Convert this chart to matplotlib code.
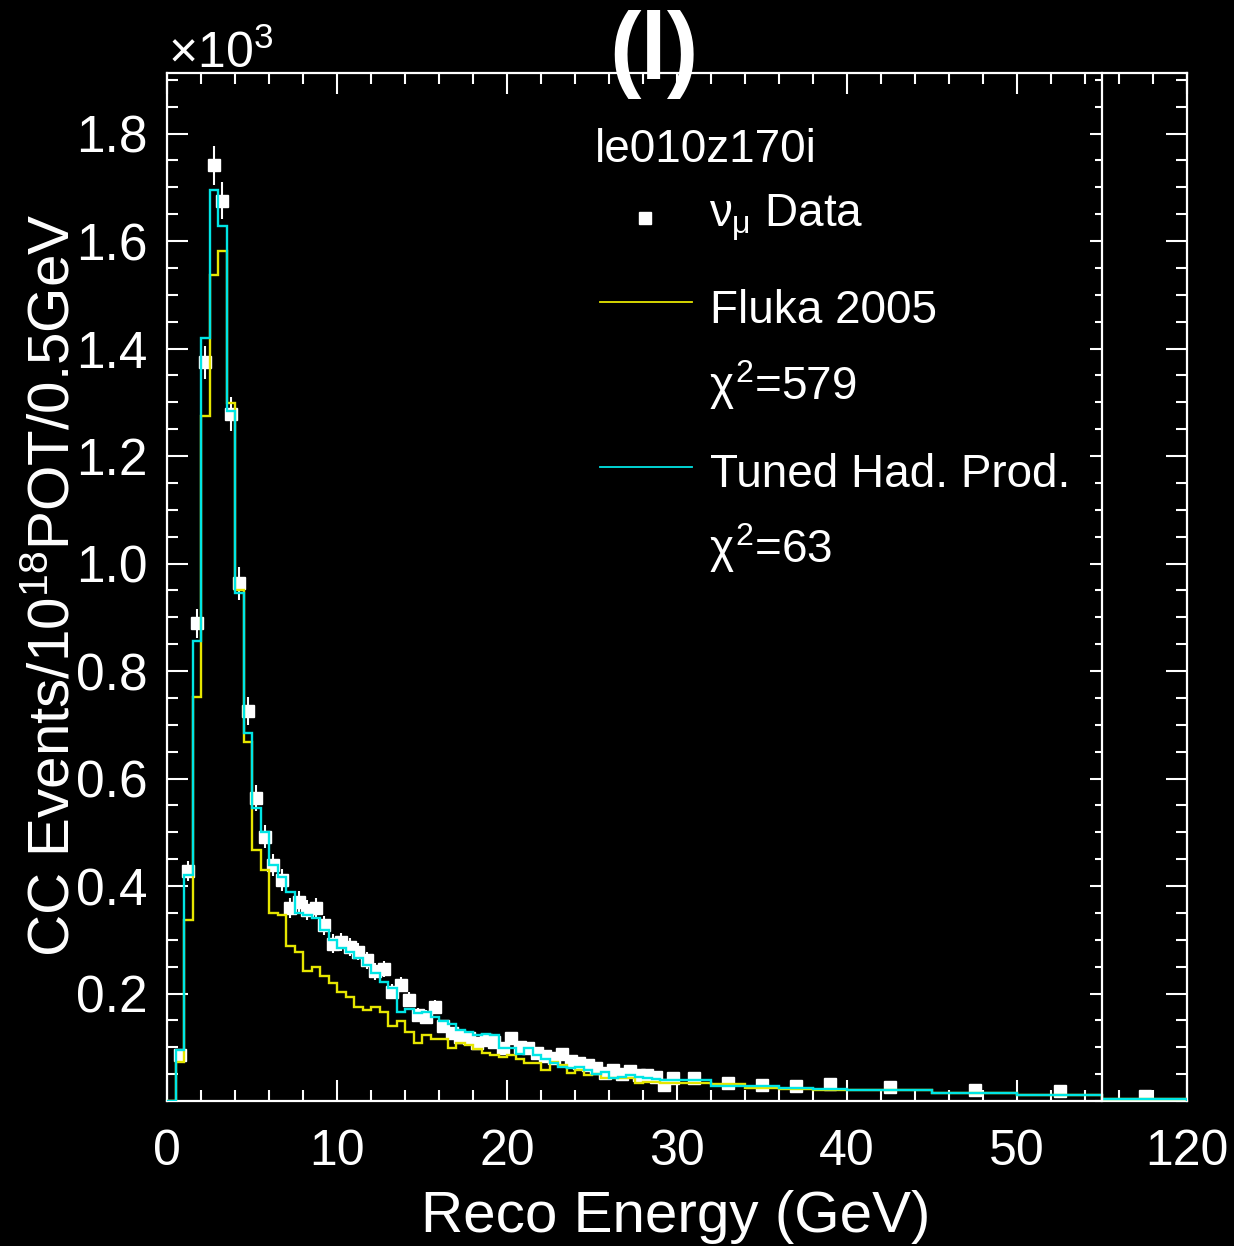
import numpy as np
import matplotlib
matplotlib.use("Agg")
import matplotlib.pyplot as plt
from matplotlib.lines import Line2D
from matplotlib.ticker import MultipleLocator, FixedLocator

plt.rcParams['font.family'] = ['Liberation Sans', 'DejaVu Sans']
plt.rcParams['mathtext.fontset'] = 'custom'
plt.rcParams['mathtext.rm'] = 'Liberation Sans'
plt.rcParams['mathtext.it'] = 'Liberation Sans'
plt.rcParams['mathtext.bf'] = 'Liberation Sans:bold'

# bin edges: 0.5 GeV up to 30, then 2 GeV, 5 GeV, and the 55-120 overflow bin drawn as 55-60
edges = np.concatenate([np.arange(0, 30.5, 0.5), [32, 34, 36, 38, 40, 45, 50, 55, 60]])

# events / 1e18 POT / 0.5 GeV  (x10^3)
tuned = [0.0, 0.095, 0.420, 0.855, 1.419, 1.695, 1.628, 1.284, 0.945, 0.684,
         0.546, 0.501, 0.439, 0.416, 0.388, 0.349, 0.346, 0.340, 0.318, 0.300,
         0.284, 0.278, 0.266, 0.253, 0.238, 0.222, 0.210, 0.166, 0.172, 0.163,
         0.166, 0.157, 0.148, 0.144, 0.132, 0.129, 0.123, 0.125, 0.123, 0.098,
         0.098, 0.088, 0.098, 0.085, 0.079, 0.071, 0.064, 0.062, 0.064, 0.058,
         0.051, 0.054, 0.042, 0.045, 0.048, 0.044, 0.042, 0.041, 0.040, 0.040,
         0.039, 0.0285, 0.027, 0.024, 0.022, 0.0205, 0.0155, 0.011, 0.003]

fluka = [0.0, 0.073, 0.337, 0.751, 1.274, 1.537, 1.582, 1.298, 0.950, 0.667,
         0.467, 0.430, 0.349, 0.346, 0.289, 0.278, 0.241, 0.250, 0.233, 0.219,
         0.203, 0.194, 0.175, 0.170, 0.175, 0.166, 0.140, 0.149, 0.128, 0.108,
         0.123, 0.115, 0.115, 0.098, 0.107, 0.104, 0.096, 0.090, 0.085, 0.082,
         0.086, 0.079, 0.070, 0.070, 0.058, 0.073, 0.067, 0.053, 0.057, 0.048,
         0.051, 0.042, 0.042, 0.042, 0.042, 0.033, 0.036, 0.036, 0.033, 0.033,
         0.034, 0.032, 0.0235, 0.023, 0.0205, 0.020, 0.015, 0.0105, 0.003]

data = [np.nan, 0.086, 0.428, 0.889, 1.374, 1.741, 1.675, 1.278, 0.963, 0.726,
        0.563, 0.492, 0.439, 0.411, 0.359, 0.371, 0.355, 0.359, 0.327, 0.293,
        0.296, 0.287, 0.278, 0.262, 0.241, 0.245, 0.203, 0.216, 0.188, 0.160,
        0.157, 0.174, 0.139, 0.126, 0.120, 0.117, 0.107, 0.113, 0.110, 0.098,
        0.117, 0.100, 0.098, 0.089, 0.083, 0.080, 0.087, 0.075, 0.070, 0.067,
        0.061, 0.052, 0.058, 0.050, 0.055, 0.048, 0.049, 0.045, 0.030, 0.042,
        0.043, 0.033, 0.029, 0.028, 0.031, 0.0255, 0.0205, 0.0177, 0.0095]

data_err = [0.0, 0.008, 0.019, 0.027, 0.031, 0.036, 0.034, 0.031, 0.030, 0.026,
            0.024, 0.022, 0.021, 0.020, 0.019, 0.019, 0.019, 0.019, 0.018, 0.017,
            0.017, 0.017, 0.016, 0.016, 0.015, 0.015, 0.014, 0.014, 0.014, 0.013,
            0.013, 0.013, 0.012, 0.012, 0.012, 0.012, 0.011, 0.011, 0.011, 0.010,
            0.010, 0.010, 0.010, 0.010, 0.009, 0.009, 0.009, 0.009, 0.009, 0.008,
            0.008, 0.008, 0.008, 0.008, 0.008, 0.007, 0.007, 0.007, 0.007, 0.007,
            0.005, 0.004, 0.004, 0.004, 0.004, 0.002, 0.002, 0.002, 0.001]

xtick_pos = [0, 10, 20, 30, 40, 50, 60]
xtick_labels = ['0', '10', '20', '30', '40', '50', '120']
ytick_pos = [0.2, 0.4, 0.6, 0.8, 1.0, 1.2, 1.4, 1.6, 1.8]

yellow = '#e6e600'
cyan = '#00e5e5'
W, H = 1234, 1246

fig = plt.figure(figsize=(12.34, 12.46), dpi=100, facecolor='black')
left, bottom, width, height = 167 / W, 1 - 1101 / H, 1020 / W, 1028 / H
ax = fig.add_axes([left, bottom, width, height])
ax.set_facecolor('black')

centers = 0.5 * (edges[:-1] + edges[1:])
ax.errorbar(centers, data, yerr=data_err, fmt='s', ms=8.5, color='white',
            ecolor='white', elinewidth=1.5, capsize=0, zorder=2)
ax.stairs(fluka, edges, color=yellow, lw=1.7, zorder=3)
ax.stairs(tuned, edges, color=cyan, lw=1.7, zorder=4)

ax.set_xlim(0, 60)
ax.set_ylim(0, 1.9126)
ax.xaxis.set_major_locator(FixedLocator(xtick_pos))
ax.set_xticklabels(xtick_labels)
ax.xaxis.set_minor_locator(MultipleLocator(2))
ax.yaxis.set_major_locator(FixedLocator(ytick_pos))
ax.set_yticklabels([f'{v:.1f}' for v in ytick_pos])
ax.yaxis.set_minor_locator(MultipleLocator(0.05))

for s in ax.spines.values():
    s.set_color('white')
    s.set_linewidth(1.6)
ax.tick_params(which='both', direction='in', colors='white', top=True, right=True, width=1.5)
ax.tick_params(which='major', length=15)
ax.tick_params(which='minor', length=8)
ax.tick_params(axis='x', labelsize=36, pad=20)
ax.tick_params(axis='y', labelsize=37, pad=14)

# separator between the 0-55 GeV range and the overflow bin
ax2 = fig.add_axes([left, bottom, width * 55 / 60, height])
ax2.patch.set_visible(False)
for s in ['left', 'top', 'bottom']:
    ax2.spines[s].set_visible(False)
ax2.spines['right'].set_color('white')
ax2.spines['right'].set_linewidth(1.6)
ax2.set_ylim(0, 1.9126)
ax2.set_xticks([])
ax2.yaxis.set_ticks_position('right')
ax2.yaxis.set_major_locator(FixedLocator(ytick_pos))
ax2.yaxis.set_minor_locator(MultipleLocator(0.05))
ax2.tick_params(axis='y', which='both', direction='in', colors='white',
                labelright=False, labelleft=False, width=1.5)
ax2.tick_params(axis='y', which='major', length=9)
ax2.tick_params(axis='y', which='minor', length=5)

# titles
fig.text(654 / W, 1 - 79 / H, '(l)', color='white', fontsize=68, fontweight='bold',
         ha='center', va='baseline')
fig.text(168 / W, 1 - 68 / H, r'$\times10^{3}$', color='white', fontsize=36, ha='left', va='baseline')
fig.text(676 / W, 1 - 1232 / H, 'Reco Energy (GeV)', color='white', fontsize=42,
         ha='center', va='baseline')
fig.text(55 / W, 1 - 585 / H, r'CC Events/10$^{18}$POT/0.5GeV', color='white', fontsize=42,
         rotation=90, ha='center', va='center')

# legend
fig.text(595 / W, 1 - 162 / H, 'le010z170i', color='white', fontsize=33, va='baseline')
fig.add_artist(Line2D([645 / W], [1 - 218 / H], marker='s', ms=8, color='white', lw=0))
fig.text(709 / W, 1 - 228 / H, r'$\nu_{\mu}$ Data', color='white', fontsize=33, va='baseline')
fig.add_artist(Line2D([600 / W, 692 / W], [1 - 302 / H] * 2, color=yellow, lw=1.3))
fig.text(710 / W, 1 - 323 / H, 'Fluka 2005', color='white', fontsize=33, va='baseline')
fig.text(709 / W, 1 - 400 / H, r'$\chi^{2}$=579', color='white', fontsize=33, va='baseline')
fig.add_artist(Line2D([600 / W, 692 / W], [1 - 467 / H] * 2, color=cyan, lw=1.3))
fig.text(710 / W, 1 - 487 / H, 'Tuned Had. Prod.', color='white', fontsize=33, va='baseline')
fig.text(709 / W, 1 - 563 / H, r'$\chi^{2}$=63', color='white', fontsize=33, va='baseline')

fig.savefig('out.png', dpi=100, facecolor='black')
